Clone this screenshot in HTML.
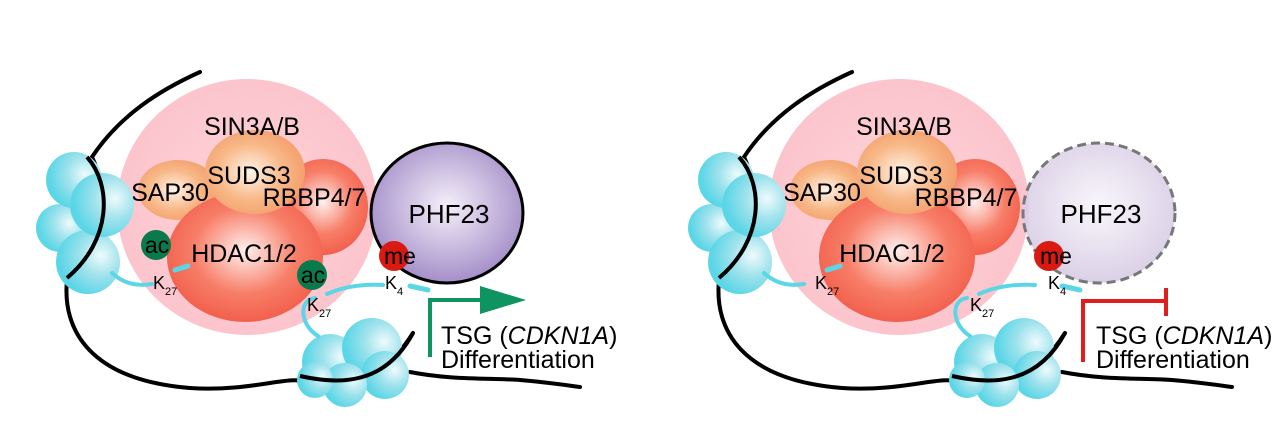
<!DOCTYPE html>
<html><head><meta charset="utf-8"><style>
html,body{margin:0;padding:0;background:#fff;}
svg{display:block;font-family:"Liberation Sans",sans-serif;}
</style></head><body>
<svg id="fig" width="1280" height="432" viewBox="0 0 1280 432" xmlns="http://www.w3.org/2000/svg">
<defs>
<radialGradient id="gPink" cx="50%" cy="50%" r="50%"><stop offset="0" stop-color="#ffd6dc"/><stop offset="1" stop-color="#fcc4cc"/></radialGradient>
<radialGradient id="gOrange" cx="45%" cy="50%" r="55%"><stop offset="0" stop-color="#fff4ea"/><stop offset="0.6" stop-color="#f8b887"/><stop offset="1" stop-color="#f3a06e"/></radialGradient>
<radialGradient id="gRed" cx="50%" cy="45%" r="55%"><stop offset="0" stop-color="#fff0ee"/><stop offset="0.6" stop-color="#f77e68"/><stop offset="1" stop-color="#f2604c"/></radialGradient>
<radialGradient id="gPurple" cx="50%" cy="45%" r="55%"><stop offset="0" stop-color="#f5f0fa"/><stop offset="1" stop-color="#a48ec8"/></radialGradient>
<radialGradient id="gPurpleL" cx="50%" cy="45%" r="55%"><stop offset="0" stop-color="#f8f5fb"/><stop offset="1" stop-color="#d4c8e2"/></radialGradient>
<radialGradient id="gCyan" cx="70%" cy="40%" r="65%"><stop offset="0" stop-color="#eefbfd"/><stop offset="0.5" stop-color="#9fe2ec"/><stop offset="1" stop-color="#5bd6e6"/></radialGradient>
</defs>
<g id="left"></g>
<g id="right" transform="translate(652,0)"></g>
</svg>
<script>
function panel(active){
  var s='';
  s+='<path d="M200,72 C160,90 120,115 92,157 C108,190 108,240 67,280 C62,330 90,380 190,388 C250,392 290,375 305,382 C340,395 380,385 413,333" fill="none" stroke="#000" stroke-width="4" stroke-linecap="round"/>';
  s+='<path d="M410,372 C450,380 490,378 520,380 C545,382 565,385 580,387" fill="none" stroke="#000" stroke-width="4" stroke-linecap="round"/>';
  s+='<ellipse cx="247" cy="207" rx="130" ry="128" fill="url(#gPink)"/>';
  s+='<ellipse cx="178" cy="190" rx="40" ry="30" fill="url(#gOrange)"/>';
  s+='<ellipse cx="323" cy="207" rx="45" ry="48" fill="url(#gRed)"/>';
  s+='<ellipse cx="245" cy="257" rx="78" ry="65" fill="url(#gRed)"/>';
  s+='<ellipse cx="255" cy="172" rx="50" ry="42" fill="url(#gOrange)"/>';
  s+='<text x="252" y="135" font-size="25" text-anchor="middle">SIN3A/B</text>';
  s+='<text x="249" y="184" font-size="25" text-anchor="middle">SUDS3</text>';
  s+='<text x="170" y="201" font-size="25" text-anchor="middle">SAP30</text>';
  s+='<text x="314" y="206" font-size="25" text-anchor="middle">RBBP4/7</text>';
  s+='<text x="'+(active?244:240)+'" y="262" font-size="25" text-anchor="middle">HDAC1/2</text>';
  if(active) s+='<ellipse cx="447" cy="213" rx="76" ry="70" fill="url(#gPurple)" stroke="#000" stroke-width="3"/>';
  else s+='<ellipse cx="447" cy="213" rx="76" ry="70" fill="url(#gPurpleL)" fill-opacity="0.85" stroke="#777" stroke-width="3" stroke-dasharray="9,5"/>';
  s+='<text x="449" y="223" font-size="26" text-anchor="middle">PHF23</text>';
  s+='<g fill="url(#gCyan)">';
  s+='<circle cx="60" cy="228" r="24"/><circle cx="74" cy="180" r="28"/><circle cx="88" cy="262" r="32"/><circle cx="102" cy="205" r="32"/></g>';
  s+='<path d="M87,157 C112,185 112,240 67,278" fill="none" stroke="#000" stroke-width="4"/>';
  s+='<g fill="url(#gCyan)">';
  s+='<circle cx="330" cy="362" r="28"/><circle cx="372" cy="348" r="30"/><circle cx="385" cy="375" r="24"/><circle cx="345" cy="385" r="22"/><circle cx="315" cy="380" r="18"/></g>';
  s+='<path d="M300,376 C340,385 385,385 413,333" fill="none" stroke="#000" stroke-width="4"/>';
  s+='<path d="M112,273 C125,285 140,286 152,284" fill="none" stroke="#5bd6e6" stroke-width="4" stroke-linecap="round"/>';
  s+='<path d="M175,270 L188,266" fill="none" stroke="#5bd6e6" stroke-width="5" stroke-linecap="round"/>';
  s+='<path d="M318,336 C300,325 298,300 315,298 M327,294 C345,286 365,284 383,285" fill="none" stroke="#5bd6e6" stroke-width="4" stroke-linecap="round"/>';
  s+='<path d="M410,286 L428,290" fill="none" stroke="#5bd6e6" stroke-width="5" stroke-linecap="round"/>';
  if(active){
    s+='<circle cx="156" cy="245" r="15" fill="#0a7a4c"/>';
    s+='<text x="157" y="253" font-size="23" text-anchor="middle">ac</text>';
    s+='<circle cx="312" cy="275" r="15" fill="#0a7a4c"/>';
    s+='<text x="313" y="283" font-size="23" text-anchor="middle">ac</text>';
  }
  s+='<circle cx="'+(active?394:397)+'" cy="256" r="15" fill="#d81a12"/>';
  s+='<text x="'+(active?400:404)+'" y="264" font-size="23" text-anchor="middle">me</text>';
  s+='<text x="'+(active?153:163)+'" y="289" font-size="18">K<tspan font-size="11" dy="6">27</tspan></text>';
  s+='<text x="'+(active?307:318)+'" y="311" font-size="18">K<tspan font-size="11" dy="6">27</tspan></text>';
  s+='<text x="'+(active?385:396)+'" y="289" font-size="18">K<tspan font-size="11" dy="6">4</tspan></text>';
  if(active){
    s+='<path d="M430,357 L430,300 L482,300" fill="none" stroke="#0d9460" stroke-width="4"/>';
    s+='<polygon points="480,286 526,300 480,314" fill="#0d9460"/>';
  } else {
    s+='<path d="M431,362 L431,301 L514,301 M514,288 L514,316" fill="none" stroke="#e01e1e" stroke-width="4"/>';
  }
  var tx=active?441:444;
  s+='<text x="'+tx+'" y="344" font-size="25">TSG (<tspan font-style="italic">CDKN1A</tspan>)</text>';
  s+='<text x="'+tx+'" y="368" font-size="25">Differentiation</text>';
  return s;
}
document.getElementById('left').innerHTML=panel(true);
document.getElementById('right').innerHTML=panel(false);
</script>
</body></html>
